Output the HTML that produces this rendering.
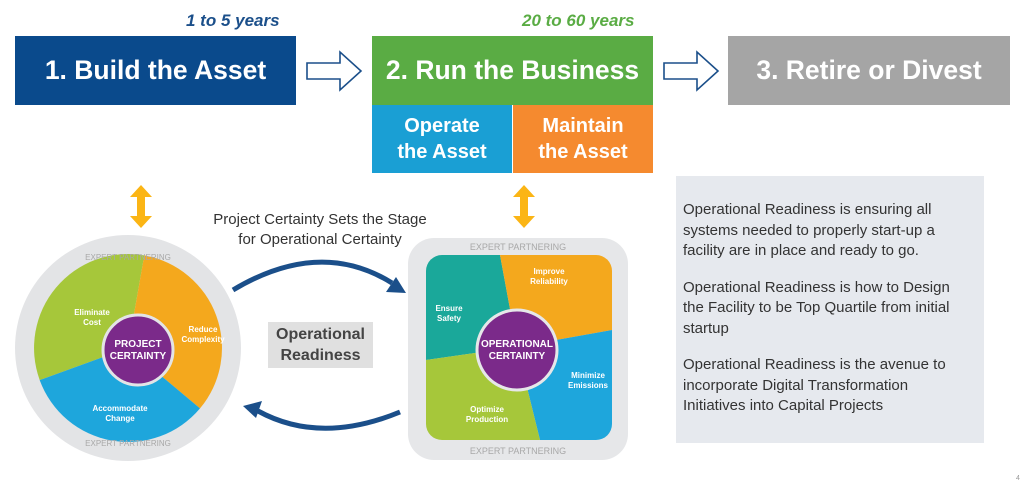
<!DOCTYPE html>
<html><head><meta charset="utf-8"><style>
body{margin:0;width:1024px;height:484px;background:#fff;position:relative;overflow:hidden;font-family:"Liberation Sans",sans-serif}
.b{position:absolute;color:#fff;font-weight:bold;display:flex;align-items:center;justify-content:center;text-align:center}
.yr{position:absolute;font-weight:bold;font-style:italic;font-size:17px}
.tx p{margin:0 0 16px 0}
</style></head><body>
<div class="yr" style="left:186px;top:11px;color:#1b4f8a">1 to 5 years</div>
<div class="yr" style="left:522px;top:11px;color:#5aac44">20 to 60 years</div>
<div class="b" style="left:15px;top:36px;width:281px;height:69px;background:#0a4a8c;font-size:26.5px">1. Build the Asset</div>
<div class="b" style="left:372px;top:36px;width:281px;height:69px;background:#5aac44;font-size:26.5px">2. Run the Business</div>
<div class="b" style="left:728px;top:36px;width:282px;height:69px;background:#a5a5a5;font-size:26.5px">3. Retire or Divest</div>
<div class="b" style="left:372px;top:105px;width:140px;height:68px;background:#1a9fd4;font-size:20px;line-height:26px">Operate<br>the Asset</div>
<div class="b" style="left:513px;top:105px;width:140px;height:68px;background:#f58a2f;font-size:20px;line-height:26px">Maintain<br>the Asset</div>
<div style="position:absolute;left:676px;top:176px;width:308px;height:267px;background:#e6e9ee"></div>
<div class="tx" style="position:absolute;left:683px;top:200px;width:290px;font-size:15px;line-height:20.5px;color:#333">
<p>Operational Readiness is ensuring all systems needed to properly start-up a facility are in place and ready to go.</p>
<p>Operational Readiness is how to Design the Facility to be Top Quartile from initial startup</p>
<p>Operational Readiness is the avenue to incorporate Digital Transformation Initiatives into Capital Projects</p></div>
<div style="position:absolute;left:190px;top:210px;width:260px;text-align:center;font-size:15px;line-height:20px;color:#333">Project Certainty Sets the Stage<br>for Operational Certainty</div>
<div class="b" style="left:268px;top:322px;width:105px;height:46px;background:#e0e0e0;color:#444;font-size:16px;line-height:21px">Operational<br>Readiness</div>
<svg width="1024" height="484" style="position:absolute;left:0;top:0" font-family="Liberation Sans,sans-serif">
<defs><clipPath id="rc"><rect x="426" y="255" width="186" height="185" rx="16"/></clipPath></defs>
<g fill="none" stroke="#1b4f8a" stroke-width="1.6">
<path d="M307,63H340V52L361,71L340,90V79H307Z"/>
<path d="M664,63H697V52L718,71L697,90V79H664Z"/>
</g>
<g fill="#fbb515">
<path d="M141,185L152,197H145V216H152L141,228L130,216H137V197H130Z"/>
<path d="M524,185L535,197H528V216H535L524,228L513,216H520V197H513Z"/>
</g>
<g stroke="#1b4f8a" stroke-width="5" fill="none">
<path d="M233,290Q320,238 392,283"/>
<path d="M400,412Q320,445 258,411"/>
</g>
<path d="M406,293L386,292L396,277Z" fill="#1b4f8a"/>
<path d="M243,406L262,401L256,418Z" fill="#1b4f8a"/>
<circle cx="128" cy="348" r="113" fill="#e3e4e6"/>
<path d="M128,348L39.7,380.1A94,94 0 0 1 144.3,255.4Z" fill="#a6c73a"/>
<path d="M128,348L144.3,255.4A94,94 0 0 1 200,408.4Z" fill="#f4a81d"/>
<path d="M128,348L200,408.4A94,94 0 0 1 39.7,380.1Z" fill="#1ea6dc"/>
<circle cx="138" cy="350" r="35" fill="#7b2a8a" stroke="#e3e4e6" stroke-width="3"/>
<g fill="#fff" font-weight="bold" text-anchor="middle">
<text x="138" y="347" font-size="10">PROJECT</text><text x="138" y="359" font-size="10">CERTAINTY</text>
<text x="92" y="315" font-size="8">Eliminate</text><text x="92" y="325" font-size="8">Cost</text>
<text x="203" y="332" font-size="8">Reduce</text><text x="203" y="342" font-size="8">Complexity</text>
<text x="120" y="411" font-size="8">Accommodate</text><text x="120" y="421" font-size="8">Change</text>
</g>
<g fill="#a8a8a8" font-size="8" text-anchor="middle"><text x="128" y="260">EXPERT PARTNERING</text><text x="128" y="446">EXPERT PARTNERING</text></g>
<rect x="408" y="238" width="220" height="222" rx="26" fill="#e6e7e9"/>
<g clip-path="url(#rc)">
<path d="M517,347L426,360V255H500Z" fill="#1aa89a"/>
<path d="M517,347L500,255H612V330Z" fill="#f4a81d"/>
<path d="M517,347L612,330V440H540Z" fill="#1ea6dc"/>
<path d="M517,347L540,440H426V360Z" fill="#a6c73a"/>
</g>
<circle cx="517" cy="350" r="40" fill="#7b2a8a" stroke="#e6e7e9" stroke-width="3"/>
<g fill="#fff" font-weight="bold" text-anchor="middle">
<text x="517" y="347" font-size="10">OPERATIONAL</text><text x="517" y="359" font-size="10">CERTAINTY</text>
<text x="449" y="311" font-size="8">Ensure</text><text x="449" y="321" font-size="8">Safety</text>
<text x="549" y="274" font-size="8">Improve</text><text x="549" y="284" font-size="8">Reliability</text>
<text x="588" y="378" font-size="8">Minimize</text><text x="588" y="388" font-size="8">Emissions</text>
<text x="487" y="412" font-size="8">Optimize</text><text x="487" y="422" font-size="8">Production</text>
</g>
<g fill="#a8a8a8" font-size="9" text-anchor="middle"><text x="518" y="250">EXPERT PARTNERING</text><text x="518" y="454">EXPERT PARTNERING</text></g>
<text x="1016" y="480" font-size="7" fill="#999">4</text>
</svg>
</body></html>
